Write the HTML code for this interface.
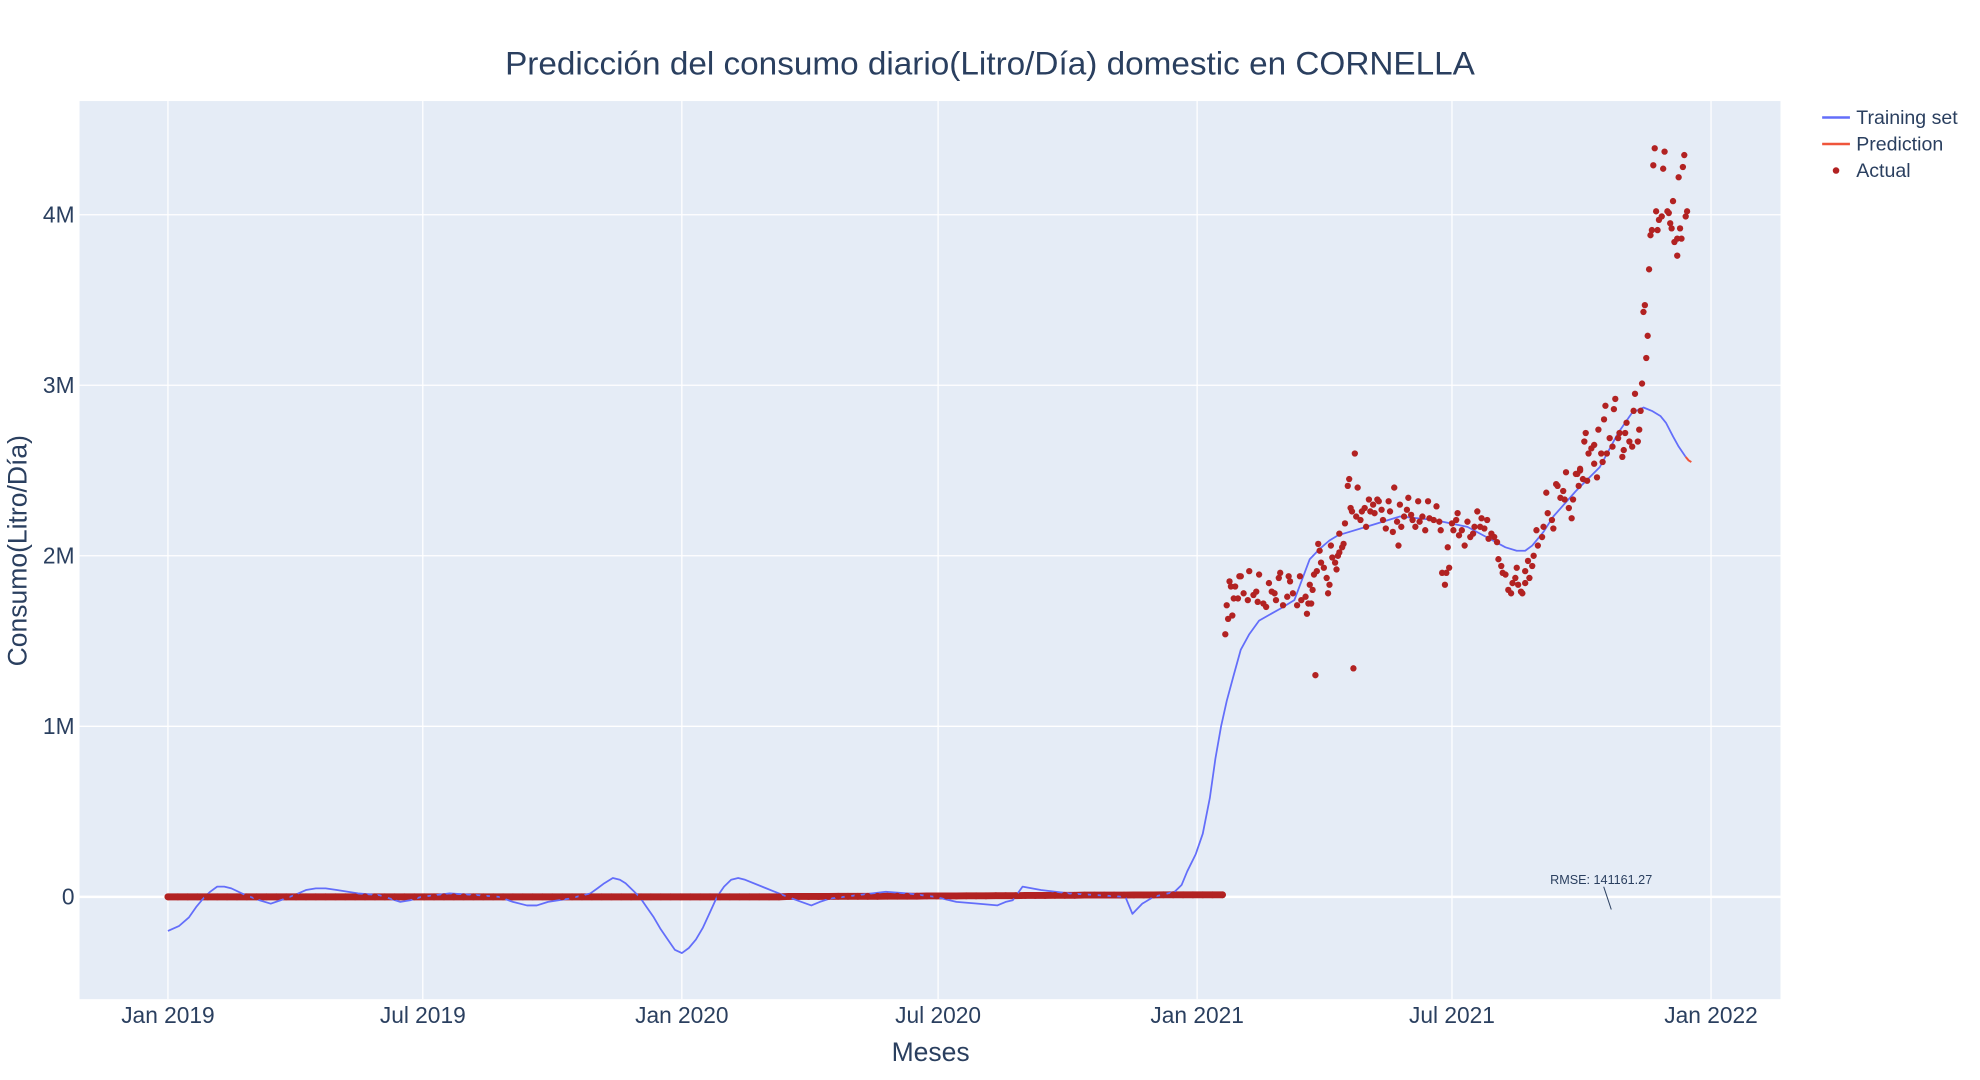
<!DOCTYPE html>
<html><head><meta charset="utf-8"><style>
html,body{margin:0;padding:0;background:#fff;}
svg{display:block;font-family:"Liberation Sans","DejaVu Sans",sans-serif;}
</style></head><body>
<svg id="chart" width="1980" height="1080" viewBox="0 0 1568 855" preserveAspectRatio="none" xmlns="http://www.w3.org/2000/svg">
<rect x="0" y="0" width="1568" height="855" fill="#fff"/>
<rect x="63" y="80" width="1347" height="711" fill="#e5ecf6"/>
<g id="grid"></g>
<g id="series"></g>
<g id="axes"></g>
<text x="784" y="59" text-anchor="middle" font-size="25.5" fill="#2a3f5f" textLength="768" lengthAdjust="spacingAndGlyphs">Predicción del consumo diario(Litro/Día) domestic en CORNELLA</text>
<text x="737" y="840" text-anchor="middle" font-size="21" fill="#2a3f5f">Meses</text>
<text transform="translate(21,436) rotate(-90)" text-anchor="middle" font-size="21" fill="#2a3f5f">Consumo(Litro/Día)</text>
<g>
<g><line x1="1443" y1="93" x2="1465" y2="93" stroke="#636efa" stroke-width="2"/><text x="1470" y="98" font-size="15.5" fill="#2a3f5f">Training set</text></g>
<g><line x1="1443" y1="114" x2="1465" y2="114" stroke="#ef553b" stroke-width="2"/><text x="1470" y="119" font-size="15.5" fill="#2a3f5f">Prediction</text></g>
<g><circle cx="1454" cy="135" r="2.6" fill="#b22222"/><text x="1470" y="140" font-size="15.5" fill="#2a3f5f">Actual</text></g>
</g>
<g>
<line x1="1270" y1="702" x2="1276" y2="720" stroke="#2a3f5f" stroke-width="0.8"/>
<text x="1268" y="700" text-anchor="middle" font-size="10" fill="#2a3f5f">RMSE: 141161.27</text>
</g>
</svg>
<script>
// x values: days since 2019-01-01; y values in millions of litres/day
const xTickDays = [0, 181, 365, 547, 731, 912, 1096];
const xTickLabels = ["Jan 2019","Jul 2019","Jan 2020","Jul 2020","Jan 2021","Jul 2021","Jan 2022"];
const yTickVals = [0, 1, 2, 3, 4];
const yTickLabels = ["0","1M","2M","3M","4M"];

const trainDays = [0,8,15,20,25,30,35,40,45,55,65,73,80,90,98,105,112,120,135,150,165,172,180,200,220,235,245,255,262,270,285,300,305,310,316,321,325,330,335,340,345,350,355,360,365,370,375,380,385,390,395,400,405,410,425,440,450,457,463,470,490,510,525,545,560,575,589,595,600,607,620,640,660,680,685,692,700,715,720,724,730,735,740,744,748,752,757,762,768,775,790,800,811,818,825,831,839,855,875,899,923,941,950,958,964,969,977,984,1000,1017,1030,1040,1048,1054,1060,1064,1069,1073,1078];
const trainVals = [-0.2,-0.17,-0.12,-0.06,-0.01,0.03,0.06,0.06,0.05,0.01,-0.02,-0.04,-0.02,0.01,0.04,0.05,0.05,0.04,0.02,0.01,-0.03,-0.02,0.0,0.02,0.01,0.0,-0.03,-0.05,-0.05,-0.03,-0.01,0.02,0.05,0.08,0.11,0.1,0.08,0.04,0.0,-0.06,-0.12,-0.19,-0.25,-0.31,-0.33,-0.3,-0.25,-0.18,-0.09,0.0,0.06,0.1,0.11,0.1,0.05,0.0,-0.03,-0.05,-0.03,-0.01,0.01,0.03,0.02,0.0,-0.03,-0.04,-0.05,-0.03,-0.02,0.06,0.04,0.02,0.01,0.0,-0.1,-0.04,0.0,0.03,0.07,0.15,0.25,0.37,0.58,0.81,1.0,1.15,1.3,1.45,1.54,1.62,1.69,1.74,1.98,2.04,2.09,2.12,2.14,2.18,2.23,2.21,2.17,2.09,2.05,2.03,2.03,2.06,2.14,2.23,2.38,2.52,2.72,2.84,2.87,2.85,2.82,2.78,2.7,2.64,2.58];
const predDays = [1078,1080,1082];
const predVals = [2.58,2.56,2.55];

const baseDays = [0,7,14,21,28,35,42,49,56,63,70,77,84,91,98,105,112,119,126,133,140,147,154,161,168,175,182,189,196,203,210,217,224,231,238,245,252,259,266,273,280,287,294,301,308,315,322,329,336,343,350,357,364,371,378,385,392,399,406,413,420,427,434,441,448,455,462,469,476,483,490,497,504,511,518,525,532,539,546,553,560,567,574,581,588,595,602,609,616,623,630,637,644,651,658,665,672,679,686,693,700,707,714,721,728,735,742,749];
const baseVals = [0,0,0,0,0,0,0,0,0,0,0,0,0,0,0,0,0,0,0,0,0,0,0,0,0,0,0,0,0,0,0,0,0,0,0,0,0,0,0,0,0,0,0,0,0,0,0,0,0,0,0,0,0,0,0,0,0,0,0,0,0,0,0,0.002,0.002,0.002,0.002,0.002,0.003,0.003,0.003,0.003,0.003,0.004,0.004,0.004,0.004,0.005,0.005,0.005,0.005,0.006,0.006,0.006,0.007,0.007,0.007,0.008,0.008,0.008,0.009,0.009,0.009,0.01,0.01,0.01,0.01,0.01,0.011,0.011,0.011,0.012,0.012,0.012,0.012,0.012,0.012,0.012];

const actDays = [751,752,753,756,754,755,758,757,761,762,760,764,767,768,771,773,775,774,778,780,782,784,786,787,790,789,792,795,796,797,799,802,804,805,808,809,810,811,813,812,815,814,816,817,818,819,821,823,824,825,826,827,829,830,831,832,834,835,836,832,838,839,840,841,843,842,844,845,847,848,850,851,853,854,856,857,859,860,862,863,865,867,868,870,871,873,874,875,876,878,880,881,883,884,886,888,889,891,893,895,896,899,901,903,904,905,907,908,909,910,912,913,915,916,917,919,921,923,925,927,928,930,932,933,935,937,938,940,942,944,945,947,948,950,952,954,955,957,958,959,961,962,964,964,966,967,969,970,973,972,976,977,979,980,983,984,986,987,989,991,992,993,995,997,998,1000,1002,1003,1005,1007,1008,1009,1011,1013,1013,1015,1016,1001,1003,1006,1018,1019,1020,1021,1022,1024,1026,1027,1028,1030,1031,1033,1034,1035,1036,1038,1040,1041,1042,1044,1045,1046,1047,1048,1049,1050,1051,1052,1053,1054,1055,1056,1057,1058,1059,1061,1062,1063,1065,1066,1067,1068,1069,1070,1072,1072,1073,1074,1075,1076,1077,1078,1079];
const actVals = [1.54,1.71,1.63,1.65,1.85,1.82,1.82,1.75,1.88,1.88,1.75,1.78,1.74,1.91,1.77,1.79,1.89,1.73,1.72,1.70,1.84,1.79,1.78,1.74,1.90,1.87,1.71,1.76,1.88,1.85,1.78,1.71,1.88,1.74,1.76,1.66,1.72,1.83,1.80,1.72,1.30,1.89,1.91,2.07,2.03,1.96,1.93,1.87,1.78,1.83,2.06,1.99,1.96,1.92,2.00,2.02,2.05,2.07,2.19,2.13,2.41,2.45,2.28,2.26,2.60,1.34,2.23,2.40,2.21,2.26,2.28,2.17,2.33,2.26,2.30,2.25,2.33,2.32,2.27,2.21,2.16,2.32,2.26,2.14,2.40,2.20,2.06,2.30,2.17,2.23,2.27,2.34,2.24,2.21,2.17,2.32,2.20,2.23,2.15,2.32,2.22,2.21,2.29,2.20,2.15,1.90,1.83,1.90,2.05,1.93,2.19,2.15,2.21,2.25,2.12,2.15,2.06,2.20,2.11,2.13,2.17,2.26,2.17,2.22,2.16,2.21,2.10,2.13,2.11,2.08,1.98,1.94,1.90,1.89,1.80,1.78,1.84,1.87,1.93,1.83,1.79,1.78,1.84,1.91,1.97,1.87,1.94,2.00,2.06,2.15,2.11,2.17,2.37,2.25,2.21,2.16,2.42,2.41,2.34,2.38,2.33,2.49,2.28,2.22,2.33,2.48,2.41,2.50,2.45,2.72,2.44,2.60,2.63,2.54,2.65,2.46,2.74,2.48,2.51,2.67,2.60,2.55,2.80,2.88,2.60,2.69,2.64,2.86,2.92,2.69,2.72,2.58,2.62,2.72,2.78,2.67,2.64,2.85,2.95,2.67,2.74,2.85,3.01,3.43,3.47,3.16,3.29,3.68,3.88,3.91,4.29,4.39,4.02,3.91,3.97,3.99,4.27,4.37,4.02,4.01,3.95,3.92,4.08,3.84,3.86,3.76,4.22,3.92,3.86,4.28,4.35,3.99,4.02];

const NS = "http://www.w3.org/2000/svg";
const X0 = 133, XPD = (1355 - 133) / 1096;
const Y0 = 710, YPM = 135;
function xs(d){ return X0 + d * XPD; }
function ys(v){ return Y0 - v * YPM; }
function mk(tag, attrs, parent){
  const e = document.createElementNS(NS, tag);
  for (const k in attrs) e.setAttribute(k, attrs[k]);
  parent.appendChild(e);
  return e;
}
const grid = document.getElementById('grid');
const axes = document.getElementById('axes');
const series = document.getElementById('series');

xTickDays.forEach((d, i) => {
  const l = mk('line', {x1: xs(d), x2: xs(d), y1: 80, y2: 791, stroke: '#fff', 'stroke-width': 1}, grid);
  
  
  const t = mk('text', {x: xs(d), y: 810, 'text-anchor': 'middle', 'font-size': 18, fill: '#2a3f5f'}, axes);
  t.textContent = xTickLabels[i];
  
  
});
yTickVals.forEach((v, i) => {
  const l = mk('line', {x1: 63, x2: 1410, y1: ys(v), y2: ys(v), stroke: '#fff', 'stroke-width': v === 0 ? 2 : 1}, grid);
  
  
  const t = mk('text', {x: 59, y: ys(v) + 6, 'text-anchor': 'end', 'font-size': 18, fill: '#2a3f5f'}, axes);
  t.textContent = yTickLabels[i];
  
  
});

const basePath = baseDays.map((d, i) => xs(d).toFixed(1) + ',' + ys(baseVals[i]).toFixed(1)).join(' ');
const bl = mk('polyline', {points: basePath, fill: 'none', stroke: '#b22222', 'stroke-width': 5.5, 'stroke-linecap': 'round'}, series);



const tp = mk('polyline', {points: trainDays.map((d, i) => xs(d).toFixed(1) + ',' + ys(trainVals[i]).toFixed(1)).join(' '), fill: 'none', stroke: '#636efa', 'stroke-width': 1.4, 'stroke-linejoin': 'round'}, series);



const pp = mk('polyline', {points: predDays.map((d, i) => xs(d).toFixed(1) + ',' + ys(predVals[i]).toFixed(1)).join(' '), fill: 'none', stroke: '#ef553b', 'stroke-width': 1.6}, series);



baseDays.forEach((d, i) => {
  const c = mk('circle', {cx: xs(d), cy: ys(baseVals[i]), r: 2.7, fill: '#b22222'}, series);
  
  
});
actDays.forEach((d, i) => {
  const c = mk('circle', {cx: xs(d), cy: ys(actVals[i]), r: 2.5, fill: '#b22222'}, series);
  
  
});
</script>
</body></html>
